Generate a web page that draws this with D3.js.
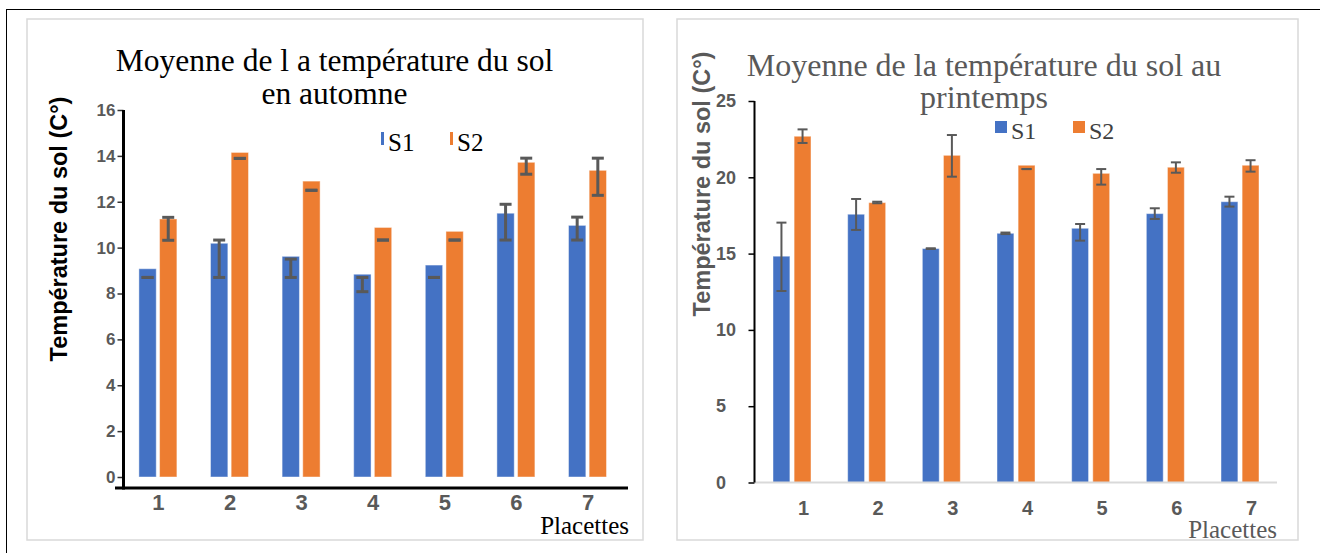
<!DOCTYPE html>
<html>
<head>
<meta charset="utf-8">
<script src="https://cdn.jsdelivr.net/npm/d3@7"></script>
<style>
  body { margin: 0; background: #fff; }
  svg { display: block; }
  .serif { font-family: "Liberation Serif", "Times New Roman", serif; }
  .sans { font-family: "Liberation Sans", Arial, sans-serif; }
</style>
</head>
<body>
<svg id="chart" width="1320" height="553"></svg>
<script>
const placettes = ['1', '2', '3', '4', '5', '6', '7']
const series = ['S1', 'S2']

// automne
const autS1 = [9.08, 10.19, 9.62, 8.84, 9.24, 11.5, 10.97]
const autS2 = [11.25, 14.15, 12.9, 10.88, 10.71, 13.72, 13.37]
const autS1Low = [8.7, 8.7, 8.7, 8.08, 8.7, 10.33, 10.33]
const autS1High = [8.7, 10.33, 9.5, 8.7, 8.7, 11.89, 11.33]
const autS2Low = [10.32, 13.89, 12.5, 10.33, 10.33, 13.2, 12.28]
const autS2High = [11.32, 13.89, 12.5, 10.33, 10.33, 13.9, 13.9]
const autTicks = [0, 2, 4, 6, 8, 10, 12, 14, 16]

// printemps
const prS1 = [14.83, 17.58, 15.33, 16.33, 16.66, 17.62, 18.4]
const prS2 = [22.69, 18.34, 21.44, 20.79, 20.26, 20.66, 20.79]
const prS1Low = [12.55, 16.55, 15.3, 16.28, 15.85, 17.27, 18.08]
const prS1High = [17.03, 18.58, 15.35, 16.38, 16.94, 17.97, 18.73]
const prS2Low = [22.25, 18.3, 20.04, 20.54, 19.52, 20.3, 20.37]
const prS2High = [23.14, 18.4, 22.77, 20.54, 20.54, 20.98, 21.12]
const prTicks = [0, 5, 10, 15, 20, 25]

const colors = { S1: '#4472C4', S2: '#ED7D31' }

const svg = d3.select('#chart')

// page borders
svg.append('line').attr('x1', 6).attr('x2', 1320).attr('y1', 9.5).attr('y2', 9.5)
  .attr('stroke', '#000').attr('stroke-width', 1)
svg.append('line').attr('x1', 6.5).attr('x2', 6.5).attr('y1', 9).attr('y2', 553)
  .attr('stroke', '#000').attr('stroke-width', 1)

function rows(s1, s2, l1, h1, l2, h2) {
  return placettes.map((p, i) => ({
    p,
    vals: [
      { s: 'S1', v: s1[i], lo: l1[i], hi: h1[i] },
      { s: 'S2', v: s2[i], lo: l2[i], hi: h2[i] }
    ]
  }))
}

function drawPanel(c) {
  const g = svg.append('g')

  g.append('rect')
    .attr('x', c.frame[0]).attr('y', c.frame[1])
    .attr('width', c.frame[2] - c.frame[0]).attr('height', c.frame[3] - c.frame[1])
    .attr('fill', 'none').attr('stroke', '#d9d9d9').attr('stroke-width', 1.5)

  const x = d3.scalePoint().domain(placettes).range(c.xRange)
  const x1 = d3.scaleBand().domain(series).range([-19, 19]).paddingInner(c.innerPad)
  const y = d3.scaleLinear().domain(c.yDomain).range(c.yRange)

  // y axis
  const ya = g.append('g')
    .attr('transform', 'translate(' + c.yAxisX + ',0)')
    .call(d3.axisLeft(y).tickValues(c.ticks).tickSize(6).tickPadding(c.tickPad))
  ya.select('.domain').remove()
  ya.selectAll('line').attr('stroke', c.tickColor).attr('stroke-width', 1.5)
  ya.selectAll('text')
    .attr('class', 'sans')
    .attr('font-size', c.tickFont).attr('font-weight', 'bold').attr('fill', '#595959')
  if (c.tickAnchor === 'start') {
    ya.selectAll('text').attr('text-anchor', 'start').attr('x', c.tickLabelX - c.yAxisX)
  }

  // bars
  const grp = g.append('g').selectAll('g')
    .data(c.data)
    .join('g')
    .attr('transform', d => 'translate(' + x(d.p) + ',0)')

  grp.selectAll('rect')
    .data(d => d.vals)
    .join('rect')
    .attr('x', d => x1(d.s))
    .attr('y', d => y(d.v))
    .attr('width', x1.bandwidth())
    .attr('height', d => y(0) - y(d.v))
    .attr('fill', d => colors[d.s])
    .attr('stroke', '#fff').attr('stroke-opacity', 0.45).attr('stroke-width', 1)

  // error bars
  const eb = grp.selectAll('g.err')
    .data(d => d.vals)
    .join('g')
    .attr('class', 'err')
    .attr('transform', d => 'translate(' + (x1(d.s) + x1.bandwidth() / 2) + ',0)')
    .attr('stroke', '#595959').attr('stroke-width', c.errWidth)
  eb.append('line').attr('y1', d => y(d.lo)).attr('y2', d => y(d.hi))
  eb.append('line').attr('x1', -c.cap).attr('x2', c.cap).attr('y1', d => y(d.lo)).attr('y2', d => y(d.lo))
  eb.append('line').attr('x1', -c.cap).attr('x2', c.cap).attr('y1', d => y(d.hi)).attr('y2', d => y(d.hi))

  // axis lines
  g.append('line')
    .attr('x1', c.xLine[0]).attr('x2', c.xLine[1]).attr('y1', c.xLineY).attr('y2', c.xLineY)
    .attr('stroke', c.xLineColor).attr('stroke-width', c.xLineWidth)
  g.append('line')
    .attr('x1', c.yAxisX).attr('x2', c.yAxisX).attr('y1', y(c.yDomain[1])).attr('y2', c.yAxisBottom)
    .attr('stroke', '#000').attr('stroke-width', c.yLineWidth)

  // x labels
  const xa = g.append('g')
    .attr('transform', 'translate(' + c.xLabelDx + ',' + c.xLineY + ')')
    .call(d3.axisBottom(x).tickSize(0).tickPadding(c.xPad))
  xa.select('.domain').remove()
  xa.selectAll('text')
    .attr('class', 'sans')
    .attr('font-size', c.xFont).attr('font-weight', 'bold').attr('fill', '#595959')

  // titles
  c.title.forEach((t, i) => {
    g.append('text').attr('class', 'serif')
      .attr('x', c.titleX).attr('y', c.titleY[i])
      .attr('text-anchor', 'middle')
      .attr('font-size', c.titleFont).attr('fill', c.titleColor)
      .text(t)
  })

  g.append('text').attr('class', 'sans')
    .attr('transform', 'translate(' + c.yLabel[0] + ',' + c.yLabel[1] + ') rotate(-90)')
    .attr('dy', '0.35em')
    .attr('text-anchor', 'middle')
    .attr('font-size', 23.5).attr('font-weight', 'bold').attr('fill', c.yLabelColor)
    .text('Température du sol (C°)')

  g.append('text').attr('class', 'serif')
    .attr('x', c.placettes[0]).attr('y', c.placettes[1])
    .attr('text-anchor', 'end')
    .attr('font-size', 25).attr('fill', c.titleColor)
    .text('Placettes')

  // legend
  const lg = g.append('g').selectAll('g')
    .data(series)
    .join('g')
    .attr('transform', (d, i) => 'translate(' + c.legend[i] + ',' + c.legendY + ')')
  lg.append('rect')
    .attr('x', 0).attr('y', -c.keyH - 6)
    .attr('width', c.keyW).attr('height', c.keyH)
    .attr('fill', d => colors[d])
  lg.append('text').attr('class', 'serif')
    .attr('x', c.keyW + 4).attr('y', 0)
    .attr('font-size', c.legendFont).attr('fill', c.legendColor)
    .text(d => d)
}

drawPanel({
  data: rows(autS1, autS2, autS1Low, autS1High, autS2Low, autS2High),
  frame: [27, 19, 643, 540],
  xRange: [157.9, 587.5],
  innerPad: 0.16,
  yDomain: [0, 16],
  yRange: [477, 110],
  ticks: autTicks,
  yAxisX: 123.5,
  yAxisBottom: 489.5,
  yLineWidth: 3,
  tickPad: 2,
  tickFont: 17,
  tickColor: '#333',
  xLine: [115, 628],
  xLineY: 488,
  xLineColor: '#000',
  xLineWidth: 3,
  xLabelDx: 0,
  xPad: 6,
  xFont: 22,
  errWidth: 3,
  cap: 6,
  title: ['Moyenne de l a température du sol', 'en automne'],
  titleX: 334.5,
  titleY: [71, 104],
  titleFont: 31.5,
  titleColor: '#000',
  yLabel: [59, 229],
  yLabelColor: '#000',
  placettes: [629, 534],
  legend: [381, 450],
  legendY: 151,
  keyW: 3,
  keyH: 13,
  legendFont: 25,
  legendColor: '#000'
})

drawPanel({
  data: rows(prS1, prS2, prS1Low, prS1High, prS2Low, prS2High),
  frame: [677, 19, 1298, 540],
  xRange: [792, 1240],
  innerPad: 0.2,
  yDomain: [0, 25],
  yRange: [482.5, 101],
  ticks: prTicks,
  tickAnchor: 'start',
  tickLabelX: 716,
  yAxisX: 754.5,
  yAxisBottom: 482.5,
  yLineWidth: 2,
  tickPad: 2,
  tickFont: 18,
  tickColor: '#000',
  xLine: [755, 1277],
  xLineY: 482.5,
  xLineColor: '#d9d9d9',
  xLineWidth: 2,
  xLabelDx: 11,
  xPad: 18,
  xFont: 20,
  errWidth: 2,
  cap: 5,
  title: ['Moyenne de la température du sol au', 'printemps'],
  titleX: 984,
  titleY: [76, 107.5],
  titleFont: 32,
  titleColor: '#595959',
  yLabel: [702, 184],
  yLabelColor: '#595959',
  placettes: [1277, 538],
  legend: [995, 1073],
  legendY: 139,
  keyW: 12,
  keyH: 12,
  legendFont: 24,
  legendColor: '#404040'
})
</script>
</body>
</html>
